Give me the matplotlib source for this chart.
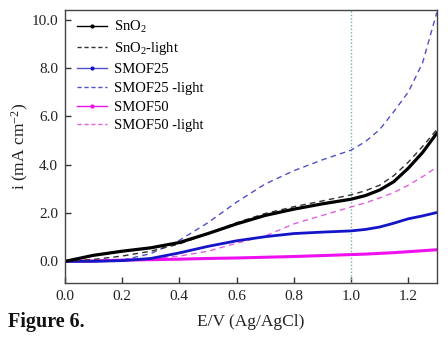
import matplotlib
matplotlib.use("Agg")
import matplotlib.pyplot as plt
from matplotlib.lines import Line2D

plt.rcParams['font.family'] = ['Liberation Serif', 'DejaVu Serif']
plt.rcParams['mathtext.fontset'] = 'custom'
plt.rcParams['mathtext.rm'] = 'Liberation Serif'
plt.rcParams['mathtext.it'] = 'Liberation Serif:italic'

E = [0.0, 0.1, 0.2, 0.3, 0.4, 0.5, 0.6, 0.7, 0.8, 0.9, 1.0, 1.05, 1.1, 1.15, 1.2, 1.25, 1.3]
sno2 = [0.0, 0.25, 0.42, 0.56, 0.78, 1.15, 1.55, 1.9, 2.16, 2.38, 2.57, 2.72, 2.95, 3.3, 3.85, 4.5, 5.3]
sno2_light = [0.0, 0.08, 0.22, 0.42, 0.72, 1.15, 1.6, 1.98, 2.26, 2.5, 2.75, 2.92, 3.15, 3.55, 4.1, 4.75, 5.45]
smof25 = [0.0, 0.0, 0.03, 0.12, 0.35, 0.62, 0.85, 1.02, 1.15, 1.21, 1.26, 1.32, 1.42, 1.58, 1.76, 1.88, 2.02]
smof25_light = [0.0, 0.0, 0.05, 0.32, 0.87, 1.6, 2.45, 3.2, 3.75, 4.2, 4.6, 4.95, 5.45, 6.2, 7.0, 8.2, 10.3]
smof50 = [0.0, 0.02, 0.05, 0.07, 0.09, 0.12, 0.14, 0.17, 0.2, 0.24, 0.28, 0.3, 0.33, 0.36, 0.4, 0.44, 0.48]
smof50_light = [0.0, 0.0, 0.02, 0.1, 0.22, 0.42, 0.75, 1.05, 1.55, 1.9, 2.25, 2.42, 2.62, 2.85, 3.15, 3.5, 3.9]

labels = ['SnO$_2$', 'SnO$_2$-light', 'SMOF25', 'SMOF25 -light', 'SMOF50', 'SMOF50 -light']
xticks = [0.0, 0.2, 0.4, 0.6, 0.8, 1.0, 1.2]
yticks = [0.0, 2.0, 4.0, 6.0, 8.0, 10.0]

c_black = '#000000'
c_blue = '#1414c8'
c_blue_l = '#5050c8'
c_mag = '#ee10ee'
c_mag_l = '#e060e0'

fig = plt.figure(figsize=(4.48, 3.44), dpi=100)
ax = fig.add_axes([0.145, 0.177, 0.83, 0.794])

ax.axvline(1.0, color='#6fb3b3', ls=(0, (1, 1.5)), lw=1.0)
ax.plot(E, smof50_light, color=c_mag_l, ls=(0, (4, 3)), lw=1.0)
ax.plot(E, smof50, color=c_mag, lw=2.2)
ax.plot(E, smof25_light, color=c_blue_l, ls=(0, (4, 3)), lw=1.0)
ax.plot(E, smof25, color=c_blue, lw=2.0)
ax.plot(E, sno2_light, color='#333333', ls=(0, (4, 3)), lw=1.0)
ax.plot(E, sno2, color=c_black, lw=2.3)

ax.set_xlim(0, 1.3)
ax.set_ylim(-0.9, 10.4)
ax.set_xticks(xticks)
ax.set_xticklabels([f'{v:.1f}' for v in xticks])
ax.set_yticks(yticks)
ax.set_yticklabels([f'{v:.1f}' for v in yticks])
ax.tick_params(direction='in', length=4, width=1, labelsize=11, colors='#333333', labelcolor='#222222', pad=5)
for s in ax.spines.values():
    s.set_color('#444444')
    s.set_linewidth(1.0)

ax.set_xlabel('E/V (Ag/AgCl)', fontsize=12.5, color='#222222', labelpad=8)
ax.set_ylabel('i (mA cm$^{-2}$)', fontsize=12.5, color='#222222')
ax.yaxis.set_label_coords(-0.092, 0.5)

handles = [
    Line2D([], [], color=c_black, lw=1, marker='o', ms=2),
    Line2D([], [], color='#333333', lw=1, ls=(0, (3, 2))),
    Line2D([], [], color=c_blue_l, lw=1, marker='o', ms=2, mfc=c_blue, mec=c_blue),
    Line2D([], [], color=c_blue_l, lw=1, ls=(0, (3, 2))),
    Line2D([], [], color=c_mag, lw=1, marker='o', ms=2),
    Line2D([], [], color=c_mag_l, lw=1, ls=(0, (3, 2))),
]
ax.legend(handles, labels, loc='upper left', frameon=False, fontsize=10.5,
          handlelength=2.1, handletextpad=0.45, labelspacing=0.38,
          borderaxespad=0.2, bbox_to_anchor=(0.008, 1.0))

fig.text(0.018, 0.05, 'Figure 6.', fontsize=14.5, fontweight='bold', color='#111111')

fig.savefig('out.png', dpi=100)
